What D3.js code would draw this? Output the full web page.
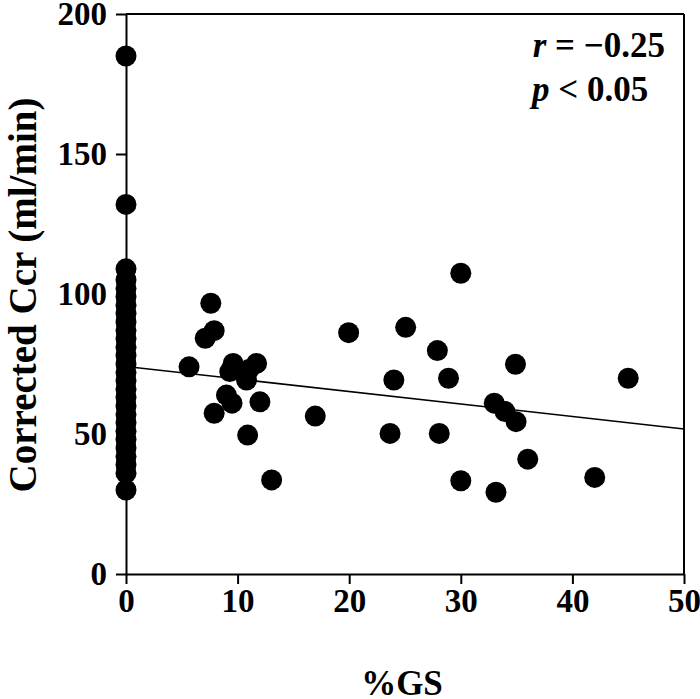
<!DOCTYPE html>
<html><head><meta charset="utf-8">
<script src="https://cdn.jsdelivr.net/npm/d3@7"></script>
<style>body{margin:0;background:#fff}</style>
</head><body>
<script>
// Data
const zeroGroupValues = [185, 132, 109, 105, 102, 99, 96, 93, 90, 87, 84, 81, 78, 75, 72, 69, 66, 63, 60, 57, 54, 51, 48, 45, 42, 39, 36, 30];
const gsX = [7.6, 7.9, 7.1, 5.65, 9.6, 11.7, 9.3, 10.8, 11.0, 9.0, 9.5, 12.0, 7.9, 10.9, 13.05, 30.0, 19.95, 25.06, 27.9, 24.0, 28.9, 16.96, 23.66, 28.07, 30.0, 34.9, 45.0, 33.0, 33.96, 34.95, 36.0, 33.15, 42.0];
const ccrY = [96.7, 86.9, 84.2, 74.0, 75.2, 75.2, 72.3, 69.3, 73.0, 63.9, 61.0, 61.5, 57.4, 49.6, 33.6, 107.4, 86.2, 88.1, 79.8, 69.3, 69.9, 56.4, 50.2, 50.2, 33.3, 74.9, 69.9, 61.0, 58.0, 54.4, 41.0, 29.2, 34.5];
const fitX = [0, 50];
const fitY = [74.1, 51.8];
const xTicks = [0, 10, 20, 30, 40, 50];
const yTicks = [0, 50, 100, 150, 200];

const W = 700, H = 699;
const svg = d3.select("body").append("svg").attr("width", W).attr("height", H);
const x = d3.scaleLinear().domain([0, 50]).range([126, 684]);
const y = d3.scaleLinear().domain([0, 200]).range([574, 14]);
const font = "'Liberation Serif', 'Times New Roman', serif";

// frame top/right
svg.append("line").attr("x1", x(0)).attr("x2", x(50)).attr("y1", y(200)).attr("y2", y(200)).attr("stroke", "#000").attr("stroke-width", 2);
svg.append("line").attr("x1", x(50)).attr("x2", x(50)).attr("y1", y(200)).attr("y2", y(0)).attr("stroke", "#000").attr("stroke-width", 2);

const xa = svg.append("g").attr("transform", `translate(0,${y(0)})`)
  .call(d3.axisBottom(x).tickValues(xTicks).tickSize(10).tickPadding(5).tickSizeOuter(0));
const ya = svg.append("g").attr("transform", `translate(${x(0)},0)`)
  .call(d3.axisLeft(y).tickValues(yTicks).tickSize(10).tickPadding(9).tickSizeOuter(0));
[xa, ya].forEach(a => {
  a.select(".domain").attr("stroke", "#000").attr("stroke-width", 2);
  a.selectAll(".tick line").attr("stroke", "#000").attr("stroke-width", 2);
  a.selectAll(".tick text").attr("font-family", font).attr("font-weight", "bold").attr("font-size", 33).attr("fill", "#000");
});

// regression line
svg.append("line").attr("x1", x(fitX[0])).attr("y1", y(fitY[0])).attr("x2", x(fitX[1])).attr("y2", y(fitY[1]))
  .attr("stroke", "#000").attr("stroke-width", 1.6);

// points
const pts = zeroGroupValues.map(v => [0, v]).concat(gsX.map((g, i) => [g, ccrY[i]]));
svg.append("g").selectAll("circle").data(pts).join("circle")
  .attr("cx", d => x(d[0])).attr("cy", d => y(d[1])).attr("r", 10.5).attr("fill", "#000");

// labels
svg.append("text").attr("transform", `translate(36,295) rotate(-90)`).attr("text-anchor", "middle")
  .attr("font-family", font).attr("font-weight", "bold").attr("font-size", 39).text("Corrected Ccr (ml/min)");
svg.append("text").attr("x", 402).attr("y", 695).attr("text-anchor", "middle")
  .attr("font-family", font).attr("font-weight", "bold").attr("font-size", 35).text("%GS");

const t1 = svg.append("text").attr("x", 665).attr("y", 57).attr("text-anchor", "end")
  .attr("font-family", font).attr("font-weight", "bold").attr("font-size", 35);
t1.append("tspan").attr("font-style", "italic").text("r");
t1.append("tspan").text(" = \u22120.25");
const t2 = svg.append("text").attr("x", 532).attr("y", 101)
  .attr("font-family", font).attr("font-weight", "bold").attr("font-size", 35);
t2.append("tspan").attr("font-style", "italic").text("p");
t2.append("tspan").text(" < 0.05");
</script>
</body></html>
